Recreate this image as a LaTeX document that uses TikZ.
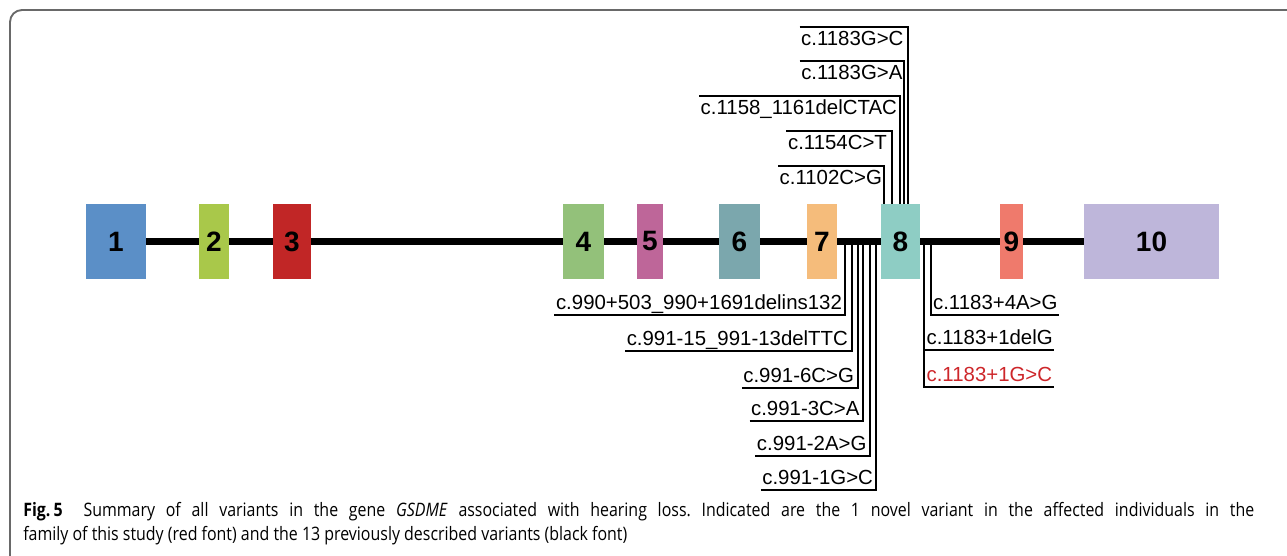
\documentclass[tikz,border=0pt]{standalone}
\usepackage{fontspec}
\setmainfont{Liberation Sans}
\newfontfamily\capfont[FakeStretch=0.86]{Open Sans}
\usetikzlibrary{positioning, backgrounds}

\definecolor{exonA}{RGB}{91,143,199}
\definecolor{exonB}{RGB}{169,200,74}
\definecolor{exonC}{RGB}{193,38,38}
\definecolor{exonD}{RGB}{147,193,122}
\definecolor{exonE}{RGB}{190,102,153}
\definecolor{exonF}{RGB}{123,167,173}
\definecolor{exonG}{RGB}{245,188,123}
\definecolor{exonH}{RGB}{142,205,196}
\definecolor{exonI}{RGB}{239,122,108}
\definecolor{exonJ}{RGB}{190,182,218}
\definecolor{novelred}{RGB}{205,38,42}
\definecolor{framegray}{RGB}{105,105,105}

\begin{document}
\frenchspacing
\begin{tikzpicture}[
    x=0.75pt, y=-0.75pt,
    exon/.style={rectangle, minimum height=56.25pt, inner sep=0pt, text centered, font=\fontsize{21}{21}\selectfont\bfseries},
    variant/.style={inner xsep=1pt, inner ysep=1pt, text height=13pt, text depth=3pt, font=\fontsize{15.3}{16}\selectfont},
    backbone/.style={line width=5.25pt},
    link/.style={line width=1.5pt},
    caption/.style={inner sep=0pt, font=\capfont\fontsize{13.9}{16}\selectfont},
]

    \useasboundingbox (0,0) rectangle (1287,556);
    \clip (0,0) rectangle (1287,556);
    \draw [framegray, line width=1.4pt, rounded corners=9pt] (10,10) rectangle (1330,600);

    % exons
    \node (ex1) [exon, fill=exonA, minimum width=45pt] at (116,241.5) {1};
    \node (ex2) [exon, fill=exonB, minimum width=22.5pt] at (214,241.5) {2};
    \node (ex3) [exon, fill=exonC, minimum width=28.5pt] at (292,241.5) {3};
    \node (ex4) [exon, fill=exonD, minimum width=30.75pt] at (583.5,241.5) {4};
    \node (ex5) [exon, fill=exonE, minimum width=19.5pt] at (650,241.5) {5};
    \node (ex6) [exon, fill=exonF, minimum width=30.75pt] at (739.5,241.5) {6};
    \node (ex7) [exon, fill=exonG, minimum width=22.5pt] at (822,241.5) {7};
    \node (ex8) [exon, fill=exonH, minimum width=29.25pt] at (900.5,241.5) {8};
    \node (ex9) [exon, fill=exonI, minimum width=17.25pt] at (1011.5,241.5) {9};
    \node (ex10) [exon, fill=exonJ, minimum width=101.25pt] at (1151.5,241.5) {10};

    \begin{scope}[on background layer]
        \draw [backbone] (ex1) -- (ex10);
    \end{scope}

    % variants in exon 8 (above)
    \node (g1183c) [variant, anchor=north east] at (905,27) {c.1183G>C};
    \node (g1183a) [variant, anchor=north east] at (904,61) {c.1183G>A};
    \node (del1158) [variant, anchor=north east] at (898.5,96) {c.1158\_1161delCTAC};
    \node (c1154t) [variant, anchor=north east] at (888.5,131) {c.1154C>T};
    \node (c1102g) [variant, anchor=north east] at (883.5,166) {c.1102C>G};

    \coordinate (top_g1183c) at (908,204);
    \coordinate (top_g1183a) at (904,204);
    \coordinate (top_del1158) at (900,204);
    \coordinate (top_c1154t) at (892,204);
    \coordinate (top_c1102g) at (884,204);

    \draw [link] (g1183c.north west) -| (top_g1183c);
    \draw [link] (g1183a.north west) -| (top_g1183a);
    \draw [link] (del1158.north west) -| (top_del1158);
    \draw [link] (c1154t.north west) -| (top_c1154t);
    \draw [link] (c1102g.north west) -| (top_c1102g);

    % variants in intron 7 (below)
    \node (delins990) [variant, anchor=south east] at (843.5,315) {c.990+503\_990+1691delins132};
    \node (del991) [variant, anchor=south east] at (849.5,351) {c.991-15\_991-13delTTC};
    \node (c991m6) [variant, anchor=south east] at (855.5,388) {c.991-6C>G};
    \node (c991m3) [variant, anchor=south east] at (861,421) {c.991-3C>A};
    \node (a991m2) [variant, anchor=south east] at (868,456) {c.991-2A>G};
    \node (g991m1) [variant, anchor=south east] at (874.5,490) {c.991-1G>C};

    \coordinate (bb_delins990) at (845,241);
    \coordinate (bb_del991) at (852,241);
    \coordinate (bb_c991m6) at (858,241);
    \coordinate (bb_c991m3) at (863,241);
    \coordinate (bb_a991m2) at (870,241);
    \coordinate (bb_g991m1) at (876,241);

    \draw [link] (delins990.south west) -| (bb_delins990);
    \draw [link] (del991.south west) -| (bb_del991);
    \draw [link] (c991m6.south west) -| (bb_c991m6);
    \draw [link] (c991m3.south west) -| (bb_c991m3);
    \draw [link] (a991m2.south west) -| (bb_a991m2);
    \draw [link] (g991m1.south west) -| (bb_g991m1);

    % variants in intron 8
    \node (a1183p4) [variant, anchor=south west] at (931.5,315) {c.1183+4A>G};
    \node (delg1183) [variant, anchor=south west] at (925,350) {c.1183+1delG};
    \node (g1183p1) [variant, anchor=south west, text=novelred] at (925,387) {c.1183+1G>C};

    \coordinate (bb_a1183p4) at (931,241);
    \coordinate (bb_1183p1) at (924,241);

    \draw [link] (bb_a1183p4) |- (a1183p4.south east);
    \draw [link] (bb_1183p1) |- (delg1183.south east);
    \draw [link] (bb_1183p1) |- (g1183p1.south east);

    % caption
    \node (caption1) [caption, anchor=base west] at (23,516)
      {\makebox[923.25pt][s]{\textbf{Fig.\,5}\hspace{0.55em} Summary of all variants in the gene \textit{GSDME} associated with hearing loss. Indicated are the 1 novel variant in the affected individuals in the}};
    \node (caption2) [caption, anchor=base west] at (23,540)
      {family of this study (red font) and the 13 previously described variants (black font)};

\end{tikzpicture}
\end{document}
